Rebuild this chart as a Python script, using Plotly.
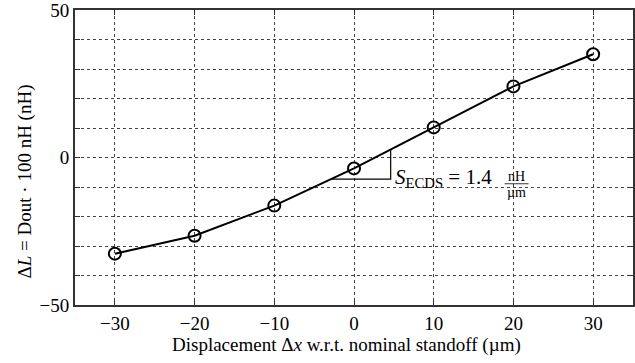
import plotly.graph_objects as go

displacement = [-30, -20, -10, 0, 10, 20, 30]
delta_L = [-32.6, -26.5, -16.3, -3.7, 10.2, 24.1, 35.0]

x_ticks = [-30, -20, -10, 0, 10, 20, 30]
x_ticktext = ["\u221230", "\u221220", "\u221210", "0", "10", "20", "30"]
y_ticks = [-50, -40, -30, -20, -10, 0, 10, 20, 30, 40, 50]
y_ticktext = ["\u221250", " ", " ", " ", " ", "0", " ", " ", " ", " ", "50"]

# slope triangle (data coords)
tri_x = [-2.9, 4.6, 4.6]
tri_y = [-7.3, -7.3, 2.7]

FONT = "Liberation Serif"

fig = go.Figure()
fig.add_trace(go.Scatter(
    x=tri_x, y=tri_y, mode="lines",
    line=dict(color="black", width=1.2), showlegend=False, hoverinfo="skip",
))
fig.add_trace(go.Scatter(
    x=displacement, y=delta_L, mode="lines+markers",
    line=dict(color="black", width=2),
    marker=dict(symbol="circle-open", size=12, color="black", line=dict(width=2)),
    showlegend=False,
))

fig.add_annotation(x=4.9, y=-6.8, xref="x", yref="y", xanchor="left", yanchor="middle",
                   text="<i>S</i><sub>ECDS</sub> = 1.4", showarrow=False,
                   font=dict(family=FONT, size=21, color="black"))
fig.add_annotation(x=20.4, y=-6.3, xref="x", yref="y", xanchor="center", yanchor="middle",
                   text="nH", showarrow=False, font=dict(family=FONT, size=14, color="black"))
fig.add_annotation(x=20.4, y=-12.0, xref="x", yref="y", xanchor="center", yanchor="middle",
                   text="\u00b5m", showarrow=False, font=dict(family=FONT, size=14, color="black"))
fig.add_shape(type="line", x0=18.9, x1=21.9, y0=-8.9, y1=-8.9, xref="x", yref="y",
              line=dict(color="black", width=0.8))

# axis titles as annotations
fig.add_annotation(x=-0.089, y=0.42, xref="paper", yref="paper", xanchor="center", yanchor="middle",
                   text="\u0394<i>L</i> = Dout \u00b7 100 nH (nH)", textangle=-90, showarrow=False,
                   font=dict(family=FONT, size=19, color="black"))
fig.add_annotation(x=0.486, y=-0.136, xref="paper", yref="paper", xanchor="center", yanchor="middle",
                   text="Displacement \u0394<i>x</i> w.r.t. nominal standoff (\u00b5m)", showarrow=False,
                   font=dict(family=FONT, size=19, color="black"))

axis_common = dict(
    showline=True, linecolor="#333333", linewidth=2, mirror="ticks",
    ticks="inside", ticklen=5, tickcolor="#333333", tickwidth=1,
    showgrid=True, gridcolor="#444444", griddash="dot", gridwidth=1,
    zeroline=False, ticklabeloverflow="allow",
    tickfont=dict(family=FONT, size=19, color="black"),
)

fig.update_xaxes(range=[-35, 35], tickvals=x_ticks, ticktext=x_ticktext, **axis_common)
fig.update_yaxes(range=[-50, 50], tickvals=y_ticks, ticktext=y_ticktext, **axis_common)

fig.update_layout(
    width=635, height=363,
    margin=dict(l=75, r=0, t=10, b=58),
    plot_bgcolor="white", paper_bgcolor="white",
)

fig.write_html(
    "out.html",
    config={"displayModeBar": False},
    post_script="document.body.style.margin='0';document.body.style.overflow='hidden';",
)
